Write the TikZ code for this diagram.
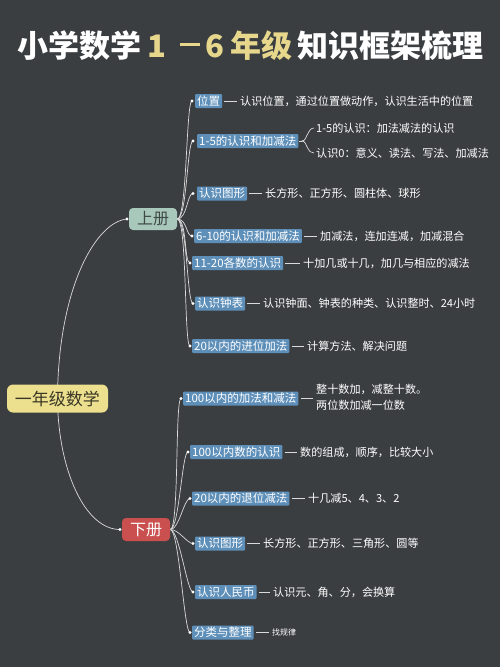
\documentclass[tikz,border=0pt]{standalone}
\usepackage{fontspec}
\newfontfamily\cjk{Noto Sans CJK SC}
\usetikzlibrary{calc}
\definecolor{bg}{HTML}{3B3E41}
\definecolor{ttlyel}{HTML}{E6D78C}
\definecolor{cbox}{HTML}{5E8FB9}
\definecolor{rootyel}{HTML}{ECDF8E}
\definecolor{roottxt}{HTML}{3A3826}
\definecolor{sage}{HTML}{A8C8BC}
\definecolor{sagetxt}{HTML}{3F4A47}
\definecolor{redbox}{HTML}{C9504E}
\definecolor{lncol}{HTML}{DADADA}
\pgfdeclarelayer{bgl}
\pgfdeclarelayer{lines}
\pgfsetlayers{bgl,lines,main}
\tikzset{
  ttl/.style={anchor=west,inner sep=0pt,font=\cjk\bfseries\fontsize{31}{33}\selectfont},
  childbox/.style={anchor=west,fill=cbox,text=white,rounded corners=1pt,inner xsep=2pt,inner ysep=0pt,minimum height=14pt,font=\cjk\fontsize{11.5}{13}\selectfont},
  leaf/.style={anchor=west,inner sep=0pt,text=white,font=\cjk\fontsize{11.1}{13}\selectfont},
  conn/.style={draw=lncol,line width=0.7pt},
  dotc/.style={fill=white},
}
\begin{document}
\begin{tikzpicture}[x=1pt,y=-1pt]
\begin{pgfonlayer}{bgl}
\fill[bg] (0,0) rectangle (500,667);
\end{pgfonlayer}
\useasboundingbox (0,0) rectangle (500,667);
% title
\node[ttl,text=white] (t1) at (17,46) {小学数学};
\node[ttl,text=ttlyel,anchor=center] (t2) at (157,46) {1};
\node[inner sep=0pt,text=ttlyel] (t3) at (190,44.5) {\rule{20pt}{3.5pt}};
\node[ttl,text=ttlyel,anchor=center] (t4) at (215,46) {6};
\node[ttl,text=ttlyel] (t5) at (230,46) {年级};
\node[ttl,text=white] (t6) at (297,46) {知识框架梳理};
% main nodes
\node[fill=rootyel,text=roottxt,rounded corners=6pt,minimum width=101pt,minimum height=28pt,inner sep=0pt,font=\cjk\fontsize{17}{19}\selectfont] (root) at (57.5,398.5) {一年级数学};
\node[fill=sage,text=sagetxt,rounded corners=4pt,minimum width=48pt,minimum height=22pt,inner sep=0pt,font=\cjk\fontsize{16}{18}\selectfont] (sh) at (153,219) {上册};
\node[fill=redbox,text=white,rounded corners=4pt,minimum width=48pt,minimum height=23pt,inner sep=0pt,font=\cjk\fontsize{16}{18}\selectfont] (xia) at (146,529.5) {下册};
\coordinate (shd) at (127,219);
\coordinate (xd) at (120,529.5);
% upper children
\coordinate (u1d) at (192,101);
\node[childbox] (u1) at (195,101) {位置};
\node[leaf] (l1) at (240,101) {认识位置，通过位置做动作，认识生活中的位置};
\coordinate (u2d) at (193,141);
\node[childbox] (u2) at (197,141) {1-5的认识和加减法};
\node[leaf] (l2a) at (316,128) {1-5的认识：加法减法的认识};
\node[leaf] (l2b) at (316,153) {认识0：意义、读法、写法、加减法};
\coordinate (u3d) at (193,193.5);
\node[childbox] (u3) at (197,193.5) {认识图形};
\node[leaf] (l3) at (265,193.5) {长方形、正方形、圆柱体、球形};
\coordinate (u4d) at (192,236);
\node[childbox] (u4) at (194,236) {6-10的认识和加减法};
\node[leaf] (l4) at (320,236) {加减法，连加连减，加减混合};
\coordinate (u5d) at (190,263);
\node[childbox] (u5) at (192,263) {11-20各数的认识};
\node[leaf] (l5) at (303,263) {十加几或十几，加几与相应的减法};
\coordinate (u6d) at (193,303.5);
\node[childbox] (u6) at (195,303.5) {认识钟表};
\node[leaf] (l6) at (263,303.5) {认识钟面、钟表的种类、认识整时、24小时};
\coordinate (u7d) at (190,346);
\node[childbox] (u7) at (192,346) {20以内的进位加法};
\node[leaf] (l7) at (307,346) {计算方法、解决问题};
% lower children
\coordinate (d1d) at (181,398.5);
\node[childbox] (d1) at (183,398.5) {100以内的加法和减法};
\node[leaf,align=left,font=\cjk\fontsize{11.1}{16}\selectfont] (m1) at (316,397) {整十数加，减整十数。\\两位数加减一位数};
\coordinate (d2d) at (188,452);
\node[childbox] (d2) at (190,452) {100以内数的认识};
\node[leaf] (m2) at (300,452) {数的组成，顺序，比较大小};
\coordinate (d3d) at (190,498.5);
\node[childbox] (d3) at (192,498.5) {20以内的退位减法};
\node[leaf] (m3) at (308,498) {十几减5、4、3、2};
\coordinate (d4d) at (193,543.5);
\node[childbox] (d4) at (195,543.5) {认识图形};
\node[leaf] (m4) at (263,543.5) {长方形、正方形、三角形、圆等};
\coordinate (d5d) at (193,592);
\node[childbox] (d5) at (195,592) {认识人民币};
\node[leaf] (m5) at (273,592) {认识元、角、分，会换算};
\coordinate (d6d) at (190,632.5);
\node[childbox] (d6) at (192,632.5) {分类与整理};
\node[leaf,font=\cjk\fontsize{8}{9}\selectfont] (m6) at (272,632.5) {找规律};
% connectors
\begin{pgfonlayer}{lines}
\draw[conn] (root.center) .. controls (58,290) and (95,222) .. (shd);
\draw[conn] (root.center) .. controls (58,470) and (85,529.5) .. (xd);
\foreach \n in {u1,u2,u3,u4,u5,u6,u7}{
  \draw[conn] (sh.east) .. controls +(10,0) and +(-6,0) .. (\n d);
}
\foreach \n in {d1,d2,d3,d4,d5,d6}{
  \draw[conn] (xia.east) .. controls +(9,0) and +(-6,0) .. (\n d);
}
\foreach \a/\b in {u1/l1,u3/l3,u4/l4,u5/l5,u6/l6,u7/l7,d1/m1,d2/m2,d3/m3,d4/m4,d5/m5,d6/m6}{
  \draw[conn] ([xshift=2pt]\a.east) -- ([xshift=-3pt]\b.west |- \a.east);
}
\coordinate (br) at ($(u2.east)+(3,0)$);
\draw[conn] (u2.east) -- (br);
\draw[conn] (br) .. controls +(4,0) and +(-2,3) .. ++(6,-7) .. controls +(1,-3) and +(-3,0) .. ([xshift=-2pt]l2a.west);
\draw[conn] (br) .. controls +(4,0) and +(-2,-3) .. ++(6,7) .. controls +(1,3) and +(-3,0) .. ([xshift=-2pt]l2b.west);
\end{pgfonlayer}
% dots
\foreach \p in {shd,xd,u1d,u2d,u3d,u4d,u5d,u6d,u7d,d1d,d2d,d3d,d4d,d5d,d6d}{
  \fill[dotc] (\p) circle (1.7pt);
}
\end{tikzpicture}
\end{document}
